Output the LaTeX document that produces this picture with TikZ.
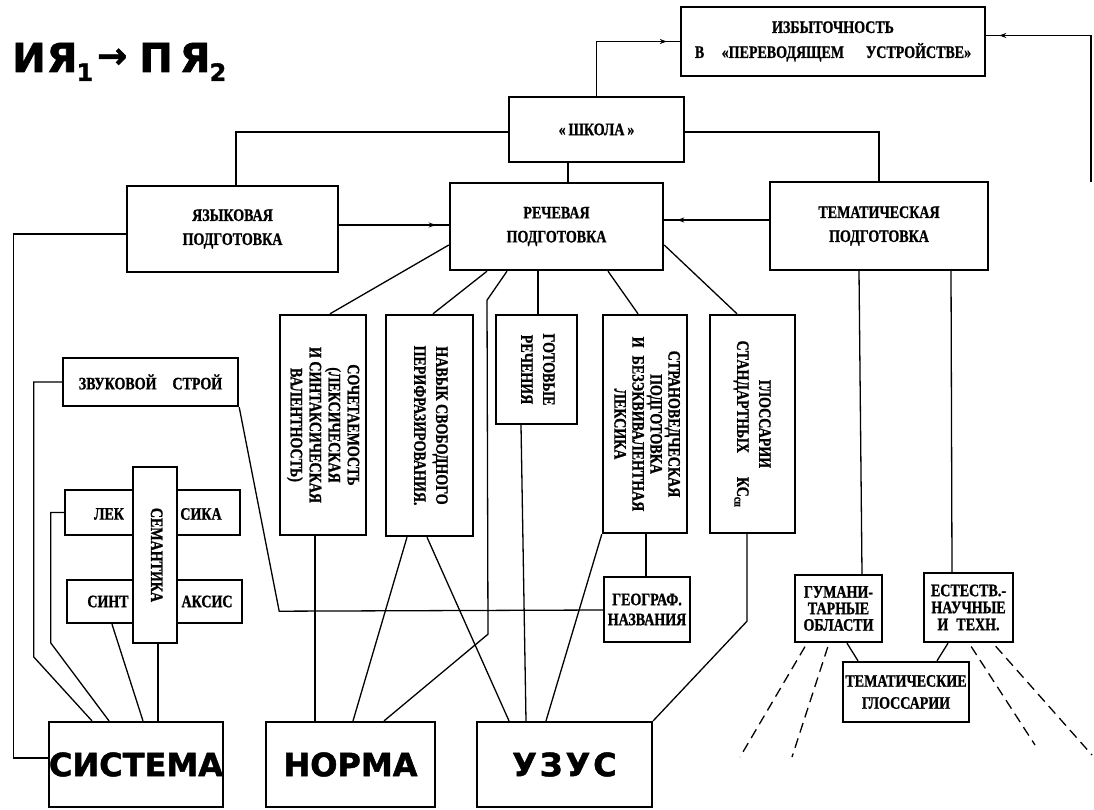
\documentclass[tikz,border=0pt]{standalone}
\usepackage{fontspec}
\usepackage{graphicx}
\setmainfont{Liberation Serif}[FakeStretch=0.8, BoldFeatures={FakeBold=1}]
\newfontfamily\heavy{DejaVu Sans}[BoldFeatures={FakeBold=1.5}]
\usetikzlibrary{arrows.meta,decorations.markings}

% vertical (rotated) multi-line label
\newcommand\vtext[2]{\rotatebox{-90}{\bfseries\fontsize{17.5}{#1}\selectfont\begin{tabular}{@{}c@{}}#2\end{tabular}}}
\newcommand\bigword[1]{\raisebox{-9pt}{#1}}

\begin{document}
\begin{tikzpicture}[x=1pt,y=-1pt,
  box/.style={draw, line width=2.4pt, inner sep=0pt, fill=white},
  hbox/.style={box, align=center, font=\bfseries\fontsize{17.5}{#1}\selectfont},
  hbox/.default=20pt,
  bigbox/.style={draw, line width=2.2pt, inner sep=0pt, minimum width=#1, minimum height=85pt,
    font=\heavy\bfseries\fontsize{32}{32}\selectfont},
  part/.style={inner sep=0pt, font=\bfseries\fontsize{17.5}{17.5}\selectfont},
  conn/.style={line width=1.3pt},
  tip/.style={conn, postaction={decorate}, decoration={markings,
    mark=at position -13pt with {\arrow{Stealth[length=7pt,width=5pt]}}}},
  dsh/.style={conn, dash pattern=on 10pt off 6pt, shorten <=4pt}]

\fill[white] (0,0) rectangle (1094,810);
\useasboundingbox (0,0) rectangle (1094,810);

% heading
\node[anchor=base west, inner sep=0pt, font=\heavy\bfseries\fontsize{40}{40}\selectfont] (title) at (12,72)
  {И\kern1ptЯ\kern-1pt\raisebox{-9pt}{\fontsize{24}{24}\selectfont 1}\hspace{4pt}\raisebox{4pt}{\fontsize{36}{36}\selectfont →}\hspace{12pt}П\kern7ptЯ\kern-1pt\raisebox{-9pt}{\fontsize{24}{24}\selectfont 2}};

% upper level
\node[hbox=25pt, minimum width=304pt, minimum height=69pt] (izb) at (833,41.5)
  {ИЗБЫТОЧНОСТЬ\\В\quad«ПЕРЕВОДЯЩЕМ\hspace{22pt}УСТРОЙСТВЕ»};
\node[hbox, minimum width=175pt, minimum height=65pt] (shk) at (596.5,129.5) {«\,ШКОЛА\,»};
\node[hbox=24pt, minimum width=211pt, minimum height=86pt] (yaz) at (232.5,229) {ЯЗЫКОВАЯ\\ПОДГОТОВКА};
\node[hbox=24pt, minimum width=213pt, minimum height=87pt] (rech) at (556.5,226.5) {РЕЧЕВАЯ\\ПОДГОТОВКА};
\node[hbox=24pt, minimum width=218pt, minimum height=88pt] (tem) at (879,226) {ТЕМАТИЧЕСКАЯ\\ПОДГОТОВКА};

% language system block
\node[hbox, minimum width=175pt, minimum height=48pt] (zv) at (150.5,382) {ЗВУКОВОЙ\hspace{16pt}СТРОЙ};
\node[box, minimum width=175pt, minimum height=45pt] (lex) at (152.5,512.5) {};
\node[box, minimum width=175pt, minimum height=43pt] (sin) at (154.5,601.5) {};
\node[part] (lexa) at ([xshift=-43.5pt,yshift=-1.5pt]lex.center) {ЛЕК};
\node[part] (lexb) at ([xshift=48.5pt,yshift=-1.5pt]lex.center) {СИКА};
\node[part] (sina) at ([xshift=-46.5pt]sin.center) {СИНТ};
\node[part] (sinb) at ([xshift=52.5pt]sin.center) {АКСИС};
\node[box, minimum width=44pt, minimum height=176pt] (sem) at (155,555) {\vtext{20pt}{СЕМАНТИКА}};

% speech skills
\node[box, minimum width=86pt, minimum height=220pt] (soch) at (323,425)
  {\vtext{19pt}{СОЧЕТАЕМОСТЬ\\(ЛЕКСИЧЕСКАЯ\\И СИНТАКСИЧЕСКАЯ\\ВАЛЕНТНОСТЬ)}};
\node[box, minimum width=87pt, minimum height=221pt] (nav) at (429.5,425.5)
  {\vtext{22pt}{НАВЫК СВОБОДНОГО\\ПЕРИФРАЗИРОВАНИЯ.}};
\node[box, minimum width=81pt, minimum height=109pt] (got) at (536.5,369.5)
  {\vtext{22pt}{ГОТОВЫЕ\\РЕЧЕНИЯ}};
\node[box, minimum width=84pt, minimum height=218pt] (str) at (645,424)
  {\vtext{18pt}{СТРАНОВЕДЧЕСКАЯ\\ПОДГОТОВКА\\И\hspace{8pt}БЕЗЭКВИВАЛЕНТНАЯ\\ЛЕКСИКА}};
\node[box, minimum width=85pt, minimum height=218pt] (glo) at (752.5,424)
  {\vtext{22pt}{ГЛОССАРИИ\\СТАНДАРТНЫХ\hspace{24pt}КС\textsubscript{сп}}};
\node[hbox, minimum width=86pt, minimum height=65pt] (geo) at (647,609.5) {ГЕОГРАФ.\\НАЗВАНИЯ};

% thematic branch
\node[hbox=16.5pt, minimum width=87pt, minimum height=67pt] (gum) at (838.5,608.5) {ГУМАНИ-\\ТАРНЫЕ\\ОБЛАСТИ};
\node[hbox=17pt, minimum width=89pt, minimum height=69pt] (est) at (968.5,607.5) {ЕСТЕСТВ.-\\НАУЧНЫЕ\\И\hspace{8pt}ТЕХН.};
\node[hbox=22pt, minimum width=126pt, minimum height=60pt] (temgl) at (906,692) {ТЕМАТИЧЕСКИЕ\\ГЛОССАРИИ};

% bottom level
\node[bigbox=174pt] (sist) at (136,764.5) {\bigword{СИСТЕМА}};
\node[bigbox=169pt] (norm) at (350.5,764.5) {\bigword{НОРМА}};
\node[bigbox=175pt] (uzus) at (564.5,764.5) {\bigword{У\kern3ptЗ\kern3ptУ\kern3ptС}};

% free ends
\coordinate (fb) at (1091,182);
\coordinate (d1) at (740,757);
\coordinate (d2) at (792,757);
\coordinate (d3) at (1035,745);
\coordinate (d4) at (1092,755);

% connectors: top
\draw[tip] (shk.north) |- (izb.west);
\draw[tip] (fb) |- ([yshift=6pt]izb.east);
\draw[conn] ([yshift=-2.5pt]shk.west) -| ([xshift=3.5pt]yaz.north);
\draw[conn] ([yshift=-2.5pt]shk.east) -| (tem.north);
\draw[conn] ([xshift=-28.5pt]shk.south) -- ([xshift=11.5pt]rech.north);
\draw[tip] ([yshift=4pt]yaz.east) -- ([yshift=1.5pt]rech.west);
\draw[tip] ([yshift=6pt]tem.west) -- ([yshift=6.5pt]rech.east);

% connectors: language system
\draw[conn] ([yshift=-5pt]yaz.west) -- ++(-112pt,0) |- ([yshift=6.5pt]sist.west);
\draw[conn] (zv.west) -- ++(-28pt,0) -- ++(0,-275pt) -- ([xshift=-44pt]sist.north);
\draw[conn] (lex.west) -- ++(-13pt,0) -- ++(0,-130.5pt) -- ([xshift=-27pt]sist.north);
\draw[conn] ([xshift=-42.5pt]sin.south) -- ([xshift=7pt]sist.north);
\draw[conn] ([xshift=3pt]sem.south) -- ([xshift=22pt]sist.north);
\draw[conn] (zv.south east) -- ++(40pt,-204pt) -- ([yshift=-0.5pt]geo.west);

% connectors: speech training
\draw[conn] ([yshift=-18.5pt]rech.west) -- ([xshift=7pt]soch.north);
\draw[conn] ([xshift=-69.5pt]rech.south) -- ([xshift=3.5pt]nav.north);
\draw[conn] ([xshift=-49.5pt]rech.south) -- ++(-20pt,-29pt) -- ++(1pt,-334pt) -- ([xshift=33.5pt]norm.north);
\draw[conn] ([xshift=-18.5pt]rech.south) -- ([xshift=1.5pt]got.north);
\draw[conn] ([xshift=51.5pt]rech.south) -- ([xshift=-7pt]str.north);
\draw[conn] ([yshift=-18.5pt]rech.east) -- ([xshift=-15.5pt]glo.north);
\draw[conn] ([xshift=-8pt]soch.south) -- ([xshift=-35.5pt]norm.north);
\draw[conn] ([xshift=-22.5pt]nav.south) -- ([xshift=2.5pt]norm.north);
\draw[conn] ([xshift=-2.5pt]nav.south) -- ([xshift=-55.5pt]uzus.north);
\draw[conn] ([xshift=-15.5pt]got.south) -- ([xshift=-38.5pt]uzus.north);
\draw[conn] (str.south west) -- ([xshift=-18.5pt]uzus.north);
\draw[conn] ([xshift=1pt]str.south) -- ([xshift=-1pt]geo.north);
\draw[conn] ([xshift=-5.5pt]glo.south) -- ++(0,-87pt) -- (uzus.north east);

% connectors: thematic training
\draw[conn] ([xshift=-20pt]tem.south) -- ([xshift=23.5pt]gum.north);
\draw[conn] ([xshift=72pt]tem.south) -- ([xshift=-16.5pt]est.north);
\draw[conn] ([xshift=8.5pt]gum.south) -- ([xshift=-48pt]temgl.north);
\draw[conn] ([xshift=-20.5pt]est.south) -- ([xshift=31pt]temgl.north);
\draw[dsh] ([xshift=-31.5pt]gum.south) -- (d1);
\draw[dsh] ([xshift=-9.5pt]gum.south) -- (d2);
\draw[dsh] ([xshift=0.5pt]est.south) -- (d3);
\draw[dsh] ([xshift=24.5pt]est.south) -- (d4);
\end{tikzpicture}
\end{document}
